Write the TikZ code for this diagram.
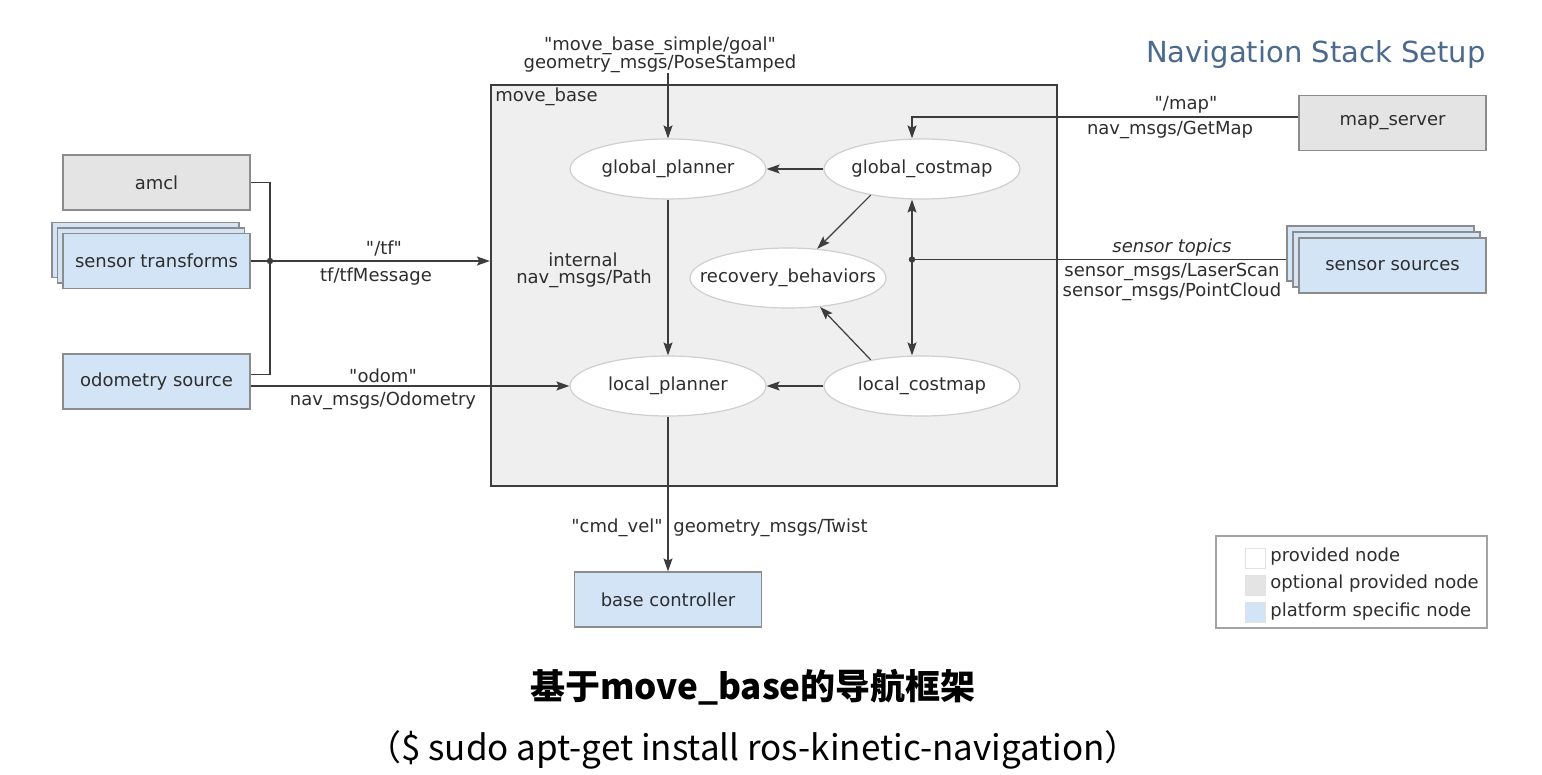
\documentclass[tikz,border=0pt]{standalone}
\usepackage{fontspec}
\setmainfont{DejaVu Sans}[Ligatures=TeXOff]
\newfontfamily\cjk{Noto Sans CJK SC}
\usetikzlibrary{shapes.geometric,arrows.meta}
\definecolor{optgray}{HTML}{E4E4E4}
\definecolor{platblue}{HTML}{D3E4F6}
\definecolor{mbfill}{HTML}{EFEFEF}
\definecolor{boxline}{HTML}{8C8C8C}
\definecolor{ellline}{HTML}{CFCFCF}
\definecolor{wire}{HTML}{3C3C3C}
\definecolor{txt}{HTML}{2E2E2E}
\definecolor{titleblue}{HTML}{4B6A8D}
\begin{document}
\begin{tikzpicture}[x=0.5pt,y=-0.5pt,
 every node/.style={text=txt, font=\fontsize{9}{10.5}\selectfont, inner sep=0pt},
 nodebox/.style={rectangle, draw=boxline, line width=0.6pt, minimum width=93.5pt, minimum height=27.5pt},
 optnode/.style={nodebox, fill=optgray},
 platnode/.style={nodebox, fill=platblue},
 ellnode/.style={ellipse, draw=ellline, line width=0.6pt, fill=white, minimum width=98pt, minimum height=30pt},
 wireline/.style={draw=wire, line width=0.6pt},
 arr/.style={wireline, -{Stealth[length=6.5pt,width=4.5pt,inset=1.2pt]}},
 swatch/.style={rectangle, draw=ellline!60, line width=0.4pt, minimum size=10pt},
]
\useasboundingbox (0,0) rectangle (1542,775);
\fill[white] (0,0) rectangle (1542,775);

\node[anchor=east, text=titleblue, font=\fontsize{14.5}{16}\selectfont] (title) at (1486,55) {Navigation Stack Setup};

% move_base container
\node[rectangle, draw=wire, line width=1.1pt, fill=mbfill, minimum width=283pt, minimum height=200.5pt] (mb) at (774,285.5) {};
\node[anchor=west] (mblab) at (495,97) {move\_base};

% ellipses
\node[ellnode, label=center:{global\_planner}] (gp) at (668,169) {};
\node[ellnode, label=center:{global\_costmap}] (gc) at (922,169) {};
\node[ellnode, label=center:{recovery\_behaviors}] (rb) at (788,278) {};
\node[ellnode, label=center:{local\_planner}] (lp) at (668,386) {};
\node[ellnode, label=center:{local\_costmap}] (lc) at (922,386) {};

% left nodes
\node[optnode] (amcl) at (156.5,182.5) {amcl};
\node[platnode] (st3) at (145.5,250) {};
\node[platnode] (st2) at (151,255.5) {};
\node[platnode] (st) at (156.5,261) {sensor transforms};
\node[platnode] (odo) at (156.5,381.5) {odometry source};

% right nodes
\node[optnode] (ms) at (1392.5,123) {map\_server};
\node[platnode] (ss3) at (1380.5,253.5) {};
\node[platnode] (ss2) at (1386.5,259.5) {};
\node[platnode] (ss) at (1392.5,265.5) {sensor sources};

% bottom node
\node[platnode] (bc) at (668,599.5) {base controller};

% legend
\node[rectangle, draw=boxline!80, line width=0.6pt, minimum width=135.5pt, minimum height=46pt] (leg) at (1351.5,582) {};
\node[swatch, fill=white] (sw1) at (1255,558) {};
\node[anchor=west] (lg1) at (1270,557) {provided node};
\node[swatch, fill=optgray] (sw2) at (1255,585) {};
\node[anchor=west] (lg2) at (1270,584) {optional provided node};
\node[swatch, fill=platblue] (sw3) at (1255,612) {};
\node[anchor=west] (lg3) at (1270,612) {platform specific node};

% tf
\coordinate (tfj) at (270,261);
\draw[wireline] (amcl.east) -| (tfj) |- ([yshift=3.5pt]odo.east);
\draw[arr] (st.east) -- (mb.west |- st.east);
\fill[wire] (tfj) circle (1.6pt);
\node (tf1) at (384,248) {"/tf"};
\node (tf2) at (376,277) {tf/tfMessage};

% odom
\draw[arr] (odo.east |- lp.west) -- (lp.west);
\node (od1) at (383,376) {"odom"};
\node (od2) at (383,401) {nav\_msgs/Odometry};

% goal
\coordinate (goal) at (668,73);
\draw[arr] (goal) -- (gp.north);
\node (g1) at (660,46) {"move\_base\_simple/goal"};
\node (g2) at (660,64) {geometry\_msgs/PoseStamped};

% internal path
\draw[arr] (gp.south) -- (lp.north);
\node (ip1) at (583,260) {internal};
\node (ip2) at (584,279) {nav\_msgs/Path};

% costmaps to planners
\draw[arr] (gc.west) -- (gp.east);
\draw[arr] (lc.west) -- (lp.east);
\draw[arr] (gc.207) -- (rb.45);
\draw[arr] (lc.153) -- (rb.318);

% map
\draw[arr] ([yshift=3pt]ms.west) -| ([xshift=-5pt]gc.north);
\node (mp1) at (1186,105) {"/map"};
\node (mp2) at (1170,130) {nav\_msgs/GetMap};

% sensors
\coordinate (sj) at ([xshift=-5pt]gc.south |- ss2.west);
\draw[wireline] (ss3.west |- ss2.west) -- (sj);
\draw[arr] (sj) -- ([xshift=-5pt]gc.south);
\draw[arr] (sj) -- ([xshift=-5pt]lc.north);
\fill[wire] (sj) circle (1.6pt);
\node[font=\fontsize{9}{10.5}\selectfont\itshape] (sn1) at (1172,248) {sensor topics};
\node (sn2) at (1172,272) {sensor\_msgs/LaserScan};
\node (sn3) at (1172,292) {sensor\_msgs/PointCloud};

% cmd_vel
\draw[arr] (lp.south) -- (bc.north);
\node[anchor=east] (cv1) at (663,528) {"cmd\_vel"};
\node[anchor=west] (cv2) at (673,528) {geometry\_msgs/Twist};

% captions
\node[font=\cjk\bfseries\fontsize{17.5}{20}\selectfont, text=black] (cap1) at (753,687) {基于move\_base的导航框架};
\node[font=\cjk\fontsize{17.5}{20}\selectfont, text=black] (cap2) at (753,750) {（\$ sudo apt-get install ros-kinetic-navigation）};
\end{tikzpicture}
\end{document}
